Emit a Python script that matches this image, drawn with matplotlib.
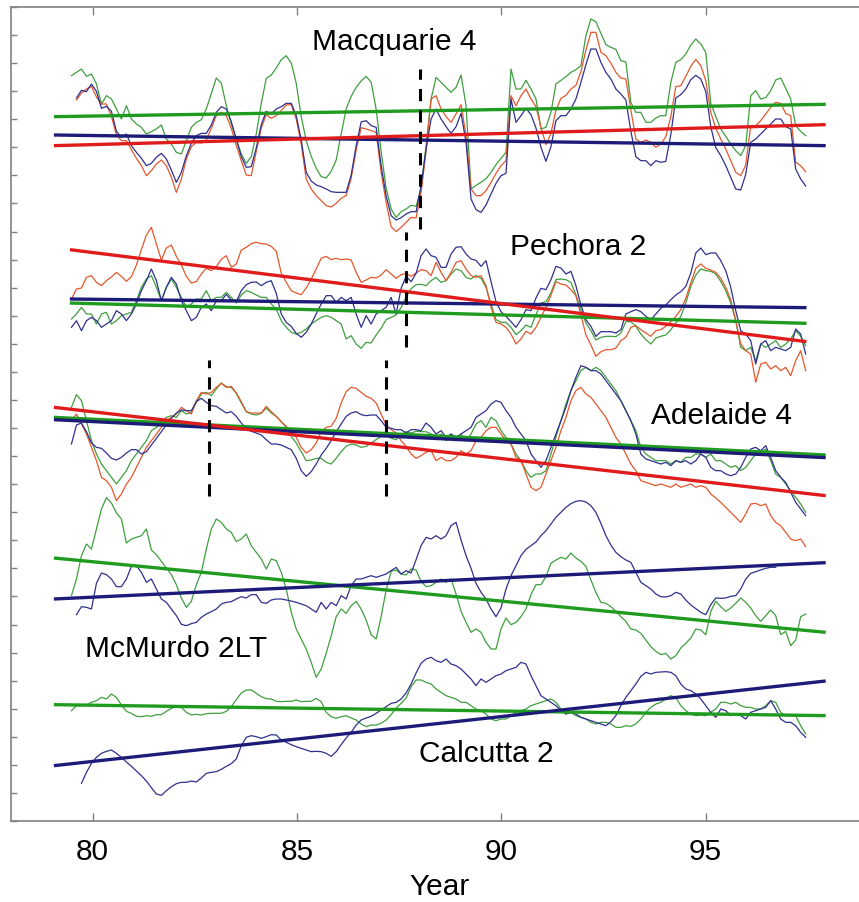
import numpy as np
import matplotlib
matplotlib.use("Agg")
import matplotlib.pyplot as plt

plt.rcParams['font.family'] = ['Liberation Sans', 'DejaVu Sans']

nan = np.nan
# common sample times (decimal years, ~1.5-monthly)
years = np.linspace(79.48, 97.45, 148)

# ---------------- Macquarie 4 ----------------
macq_green = [2236,2246,2256,2234,2241,2211,2151,2176,2166,2136,
              2106,2146,2106,2091,2081,2061,2068,2076,2088,2046,
              2031,2006,2001,2041,2081,2096,2104,2136,2183,2229,
              2214,2146,2091,2046,2001,1973,1993,2061,2153,2228,
              2238,2259,2284,2296,2274,2213,2113,2041,1994,1958,
              1933,1929,1949,1983,2061,2136,2174,2201,2220,2234,
              2216,2136,2008,1899,1836,1811,1828,1836,1847,1844,
              1898,2026,
              2166,2231,2216,2201,2186,2201,2238,2146,1896,1907,
              1916,1927,1946,1969,1988,2006,2256,2196,2196,2222,
              2196,2166,2076,2081,2126,2211,2222,2233,2246,2254,
              2266,2356,2406,2398,2363,2329,2321,2315,2281,2277,
              2156,2126,2126,2096,2096,2109,2116,2116,2216,2276,
              2284,2301,2328,2346,2331,2306,2153,2114,2076,2054,
              2031,2011,1996,2026,2176,2191,2166,2170,2191,2223,
              2229,2198,2166,2086,2069,2056]
macq_blue = [nan,2169,2192,2188,2211,2189,2138,2144,2129,2069,
             2051,2061,2026,2006,1988,1966,1973,1991,2003,1986,
             1953,1916,1946,1996,2033,2056,2063,2063,2088,2126,
             2143,2136,2098,2046,1993,1961,1963,2019,2089,2129,
             2121,2136,2143,2153,2153,2116,2043,1946,1920,1908,
             1903,1896,1888,1886,1886,1886,1938,2026,2097,2101,
             2086,2081,1966,1876,1816,1803,1810,1821,1828,1828,
             1906,2016,
             2106,2136,2106,2083,2063,2083,2123,2036,1866,1834,
             1826,1848,1881,1913,1936,1943,2166,2096,2116,2138,
             2119,2079,2021,1979,2023,2101,2116,2116,2136,2166,
             2216,2269,2316,2316,2276,2246,2226,2196,2181,2163,
             2069,1993,1981,1981,1966,1981,1976,1979,2059,2169,
             2179,2196,2224,2237,2226,2188,2083,2020,1996,1966,
             1931,1896,1893,1940,2036,2046,2061,2076,2091,2106,
             2106,2083,2076,1956,1926,1905]
macq_red = [nan,2163,2184,2196,2204,2172,2151,2151,2114,2059,
            2041,2041,2014,1988,1966,1936,1951,1971,1983,1966,
            1931,1886,1926,1986,2023,2036,2034,2043,2078,2116,
            2126,2116,2078,2026,1981,1938,1936,2009,2079,2119,
            2108,2116,2131,2148,2149,2106,2031,1926,1896,1876,
            1861,1846,1842,1853,1868,1876,1928,2013,2080,2076,
            2071,2066,1946,1856,1783,1768,1781,1796,1811,1809,
            1886,2011,
            2166,2176,2136,2113,2096,2121,2149,2056,1896,1876,
            1876,1891,1916,1943,1966,1981,2176,2146,2176,2196,
            2166,2143,2081,2029,2063,2133,2168,2177,2196,2207,
            2248,2313,2366,2366,2306,2296,2273,2246,2229,2226,
            2133,2046,2036,2043,2036,2021,2031,2053,2113,2203,
            2206,2234,2264,2285,2266,2221,2126,2078,2046,2016,
            1981,1946,1936,1968,2086,2086,2101,2121,2141,2156,
            2153,2123,2116,1976,1966,1948]

# ---------------- Pechora 2 ----------------
pech_red = [1566,1596,1599,1631,1636,1616,1606,1621,1632,1646,
            1634,1619,1633,1668,1714,1758,1781,1731,1683,1719,
            1728,1694,1668,1634,1614,1618,1641,1658,1651,1663,
            1685,1696,1661,1671,1713,1721,1732,1736,1732,1731,
            1724,1709,1644,1616,1591,1584,1579,1599,1626,1656,
            1688,1694,1684,1688,1684,1686,1683,1646,1616,1623,
            1631,1629,1638,1654,1641,1628,1639,1643,1634,1644,
            1654,1651,
            1636,1676,1646,1621,1646,1676,1681,1656,1636,1631,
            1636,1606,1541,1496,1491,1481,1461,1431,1446,1469,
            1461,1481,1511,1541,1578,1618,1611,1608,1594,1576,
            1518,1458,1428,1394,1408,1414,1414,1419,1441,1451,
            1481,1486,1474,1464,1454,1471,1474,1484,1498,1514,
            1534,1568,1614,1658,1671,1658,1653,1646,1628,1601,
            1564,1501,1431,1411,1401,1316,1371,1376,1356,1366,
            1351,1361,1336,1381,1411,1351]
pech_blue = [1481,1501,1471,1501,1511,1501,1481,1491,1501,1531,
             1521,1501,1521,1551,1591,1621,1656,1621,1561,1601,
             1631,1611,1561,1531,1501,1511,1541,1551,1531,1561,
             1561,1580,1563,1558,1591,1609,1616,1617,1606,1616,
             1621,1583,1521,1496,1484,1463,1451,1466,1491,1521,
             1551,1576,1576,1556,1571,1561,1571,1521,1481,1516,
             1491,1521,1531,1541,1571,1521,1598,1634,1618,1643,
             1696,1716,
             1696,1691,1661,1661,1701,1721,1723,1701,1686,1682,
             1664,1681,1618,1558,1528,1514,1498,1481,1504,1534,
             1531,1569,1598,1594,1624,1664,1659,1641,1649,1606,
             1548,1504,1484,1454,1468,1468,1468,1464,1474,1521,
             1528,1534,1528,1514,1504,1521,1538,1548,1564,1578,
             1588,1604,1644,1704,1719,1699,1704,1704,1681,1651,
             1601,1531,1471,1461,1441,1371,1431,1441,1411,1421,
             1416,1411,1421,1476,1461,1401]
pech_green = [1506,1521,1541,1521,1521,1491,1521,1526,1491,1501,
              1516,1521,1526,1561,1601,1626,1636,1601,1561,1601,
              1626,1601,1571,1541,1551,1566,1566,1591,1561,1571,
              1571,1586,1571,1554,1578,1591,1586,1578,1571,1571,
              1551,1536,1501,1481,1466,1461,1466,1476,1491,1501,
              1511,1516,1511,1501,1491,1446,1456,1431,1418,1436,
              1434,1458,1478,1504,1511,1518,1541,1571,1597,1609,
              1610,1606,
              1621,1631,1616,1621,1641,1656,1651,1631,1626,1637,
              1628,1601,1551,1504,1496,1496,1481,1459,1471,1488,
              1481,1519,1554,1558,1584,1624,1626,1624,1616,1578,
              1534,1494,1471,1443,1451,1454,1454,1453,1464,1498,
              1498,1484,1461,1444,1431,1449,1454,1458,1474,1494,
              1514,1554,1604,1638,1656,1651,1649,1641,1619,1591,
              1554,1501,1421,1411,1421,1381,1431,1421,1431,1441,
              1421,1431,1446,1471,1454,1426]

# ---------------- Adelaide 4 ----------------
adel_red = [1201,1221,1191,1161,1121,1081,1031,1021,1001,961,
            981,1011,1031,1061,1091,1121,1141,1161,1181,1201,
            1211,1221,1241,1231,1221,1261,1286,1281,1286,1301,
            1313,1301,1304,1284,1258,1228,1224,1224,1224,1244,
            1228,1214,1198,1184,1168,1151,1121,1104,1114,1134,
            1168,1181,1184,1208,1254,1288,1301,1298,1286,1274,
            1268,1254,1221,1188,1174,1164,1141,1124,1101,1088,
            1096,1106,
            1111,1081,1091,1081,1081,1091,1111,1101,1111,1141,
            1151,1171,1181,1181,1161,1141,1131,1091,1081,1041,
            1001,991,1001,1041,1081,1121,1171,1211,1261,1291,
            1301,1281,1271,1251,1231,1211,1181,1151,1131,1101,
            1071,1051,1021,1016,1011,1006,1011,1006,1001,1011,
            1001,1006,1011,1001,1006,1001,981,969,956,941,
            926,911,896,921,951,953,946,951,916,896,
            886,866,846,841,846,823]
adel_blue = [1131,1188,1194,1168,1134,1121,1118,1104,1088,1083,
             1091,1104,1114,1114,1101,1108,1128,1148,1168,1188,
             1208,1224,1233,1231,1231,1258,1268,1256,1246,1244,
             1234,1224,1228,1214,1194,1178,1169,1164,1158,1144,
             1131,1131,1128,1121,1114,1088,1051,1034,1048,1071,
             1098,1118,1141,1168,1191,1214,1224,1228,1219,1216,
             1218,1218,1201,1181,1178,1174,1174,1164,1174,1174,
             1171,1194,
             1181,1161,1171,1151,1161,1151,1161,1171,1181,1211,
             1221,1231,1251,1261,1256,1231,1211,1181,1161,1141,
             1101,1081,1061,1081,1121,1161,1201,1241,1291,1331,
             1366,1361,1351,1351,1341,1321,1301,1281,1261,1231,
             1201,1161,1101,1086,1081,1076,1071,1076,1066,1081,
             1076,1081,1071,1081,1101,1091,1061,1051,1051,1041,
             1036,1041,1061,1091,1116,1121,1111,1126,1091,1051,
             1031,1016,986,956,936,916]
adel_green = [1241,1279,1261,1201,1141,1101,1071,1051,1031,1011,
              1031,1051,1081,1101,1121,1141,1171,1181,1191,1211,
              1216,1211,1231,1221,1226,1256,1281,1286,1276,1296,
              1314,1303,1301,1283,1254,1228,1221,1218,1223,1239,
              1224,1214,1198,1181,1154,1134,1108,1081,1083,1088,
              1088,1076,1071,1088,1108,1124,1131,1128,1121,1124,
              1134,1144,1154,1158,1148,1144,1158,1168,1164,1169,
              1168,1168,
              1161,1151,1161,1141,1151,1141,1161,1141,1161,1191,
              1201,1181,1211,1201,1171,1151,1131,1101,1081,1051,
              1031,1041,1041,1051,1101,1151,1201,1251,1291,1321,
              1351,1361,1351,1361,1351,1331,1311,1291,1261,1231,
              1201,1171,1121,1101,1091,1081,1081,1081,1071,1081,
              1076,1091,1091,1101,1101,1091,1101,1081,1081,1071,
              1061,1066,1051,1061,1081,1101,1106,1116,1081,1041,
              1031,1011,991,971,951,926]

# ---------------- McMurdo 2LT ----------------
mcm_green = [676,726,796,831,816,876,936,970,954,924,
             906,834,846,851,856,876,813,799,779,759,
             739,709,669,641,659,709,746,816,876,906,
             896,876,866,838,846,861,826,806,786,756,
             786,781,746,696,626,576,546,516,476,431,
             456,503,556,613,636,623,646,659,636,603,
             559,546,613,693,749,753,741,738,756,753,
             719,703,
             706,716,726,716,726,681,629,596,566,576,
             566,536,516,516,576,609,589,596,613,636,
             679,709,709,733,773,783,791,786,804,789,
             779,764,723,686,656,653,643,629,613,599,
             576,573,563,543,523,509,499,503,486,496,
             519,533,549,576,573,559,629,659,643,629,
             639,653,669,656,639,616,599,616,633,616,
             559,569,526,543,613,621]
mcm_blue = [nan,619,643,641,636,713,744,739,726,703,
            703,726,764,766,746,716,726,696,666,656,
            636,616,590,586,592,596,611,621,628,636,
            651,656,658,666,673,669,679,679,656,653,
            663,666,666,663,660,656,651,646,636,626,
            656,636,656,646,676,666,706,726,726,731,
            736,731,736,741,751,761,741,751,744,784,
            826,851,
            846,856,846,856,886,896,843,796,758,713,
            686,666,636,613,639,696,736,766,796,815,
            826,837,856,871,891,911,926,941,952,959,
            961,957,946,926,893,856,828,806,793,783,
            776,746,716,706,696,681,673,672,676,686,
            681,663,648,637,626,619,649,669,668,669,
            674,676,696,726,743,748,753,758,761,761,
            nan,nan,nan,nan,nan,nan]

# ---------------- Calcutta 2 ----------------
cal_green = [331,346,346,348,356,361,371,366,381,371,
             348,329,323,314,313,316,314,319,319,329,
             338,343,341,326,318,320,318,322,323,323,
             323,329,343,364,384,393,393,383,373,367,
             366,359,358,359,359,363,358,359,359,368,
             358,326,313,308,313,316,309,303,291,283,
             288,288,293,303,319,339,353,369,403,423,
             423,416,
             411,396,386,376,371,366,356,356,346,336,
             331,321,306,301,306,306,316,326,331,336,
             346,351,356,361,366,356,336,321,326,316,
             311,306,296,291,296,296,291,281,281,286,
             284,291,306,326,341,351,356,366,376,371,
             346,331,321,316,318,316,326,336,356,356,
             351,356,346,341,341,336,336,346,361,356,
             326,316,316,316,286,261]
cal_blue = [nan,nan,113,146,173,191,203,209,213,203,
            191,177,164,150,136,120,100,81,77,91,
            103,112,116,116,120,117,129,143,146,148,
            155,164,172,186,226,251,256,253,248,253,
            259,258,243,236,229,223,218,213,208,209,
            208,203,194,208,229,249,266,288,303,309,
            314,323,333,343,353,356,366,384,411,444,
            473,486,
            491,481,476,486,471,466,456,441,426,406,
            426,416,426,436,441,451,456,461,476,471,
            436,406,376,366,356,346,331,321,326,321,
            311,306,301,296,291,286,298,316,346,371,
            391,411,434,446,441,446,447,448,446,436,
            411,396,391,381,366,346,326,311,336,331,
            316,321,316,306,326,331,336,341,361,336,
            306,296,296,286,266,251]

# ---------------- linear trends (start / end values) ----------------
trend_years = [79.05, 97.94]
pech_trend_years = [79.44, 97.47]
macq_trend_green = [2113, 2150]
macq_trend_blue = [2058, 2026]
macq_trend_red = [2026, 2089]
pech_trend_green = [1554, 1493]
pech_trend_blue = [1566, 1540]
pech_trend_red = [1714, 1438]
adel_trend_green = [1211, 1098]
adel_trend_blue = [1204, 1090]
adel_trend_red = [1241, 976]
mcm_trend_green = [789, 566]
mcm_trend_blue = [666, 775]
cal_trend_green = [349, 316]
cal_trend_blue = [166, 420]

# ---------------- change points (dashed) ----------------
break_years = [88.0, 87.67, 82.85, 87.17]
break_low = [1776, 1422, 976, 976]
break_high = [2256, 1767, 1384, 1384]

# ---------------- station labels ----------------
station_names = ["Macquarie 4", "Pechora 2", "Adelaide 4", "McMurdo 2LT", "Calcutta 2"]
station_label_x = [87.38, 91.88, 95.38, 82.03, 89.64]
station_label_y = [2316, 1701, 1194, 496, 181]

xtick_vals = [80, 85, 90, 95]
xtick_labels = ["80", "85", "90", "95"]

# ---------------- styles ----------------
thin_green = '#3f9f3f'
thin_red = '#e5572c'
thin_blue = '#30308e'
tr_green = '#1f9b1f'
tr_red = '#e01b1b'
tr_blue = '#1c1c78'
thin_lw = 0.9
trend_lw = 2.4

fig = plt.figure(figsize=(8.59, 9.03), dpi=100)
ax = fig.add_axes([11 / 859, 81 / 903, 858 / 859, 814 / 903])

thin_sets = [
    (macq_green, thin_green), (macq_red, thin_red), (macq_blue, thin_blue),
    (pech_green, thin_green), (pech_red, thin_red), (pech_blue, thin_blue),
    (adel_green, thin_green), (adel_red, thin_red), (adel_blue, thin_blue),
    (mcm_green, thin_green), (mcm_blue, thin_blue),
    (cal_green, thin_green), (cal_blue, thin_blue),
]
for vals, col in thin_sets:
    assert len(vals) == len(years), len(vals)
    ax.plot(years, vals, color=col, lw=thin_lw, zorder=2)

trend_sets = [
    (trend_years, macq_trend_green, tr_green), (trend_years, macq_trend_blue, tr_blue),
    (trend_years, macq_trend_red, tr_red),
    (pech_trend_years, pech_trend_green, tr_green), (pech_trend_years, pech_trend_blue, tr_blue),
    (pech_trend_years, pech_trend_red, tr_red),
    (trend_years, adel_trend_green, tr_green), (trend_years, adel_trend_blue, tr_blue),
    (trend_years, adel_trend_red, tr_red),
    (trend_years, mcm_trend_green, tr_green), (trend_years, mcm_trend_blue, tr_blue),
    (trend_years, cal_trend_green, tr_green), (trend_years, cal_trend_blue, tr_blue),
]
for xs, ys, col in trend_sets:
    ax.plot(xs, ys, color=col, lw=trend_lw, solid_capstyle='butt', zorder=3)

for bx, lo, hi in zip(break_years, break_low, break_high):
    ax.plot([bx, bx], [lo, hi], color='black', lw=2.2, dashes=(4, 3), zorder=4)

for name, lx, ly in zip(station_names, station_label_x, station_label_y):
    ax.text(lx, ly, name, ha='center', va='baseline', fontsize=21.5, color='black', zorder=5)

ax.set_xlim(78, 99)
ax.set_ylim(0, 2442)
ax.set_xticks(xtick_vals)
ax.set_xticklabels(xtick_labels)
ax.set_yticks(np.linspace(0, 2442, 30))
ax.set_yticklabels([])
ax.tick_params(axis='x', direction='in', length=6, width=1, color='#808080',
               top=True, bottom=True, labelsize=21.5, pad=11.5)
ax.tick_params(axis='y', direction='in', length=4, width=1, color='#808080',
               left=True, right=False)
for side in ['left', 'top', 'bottom']:
    ax.spines[side].set_color('#808080')
    ax.spines[side].set_linewidth(1.2)
ax.spines['right'].set_visible(False)
ax.set_xlabel('Year', fontsize=21.5, labelpad=5)

fig.savefig('out.png', dpi=100)
